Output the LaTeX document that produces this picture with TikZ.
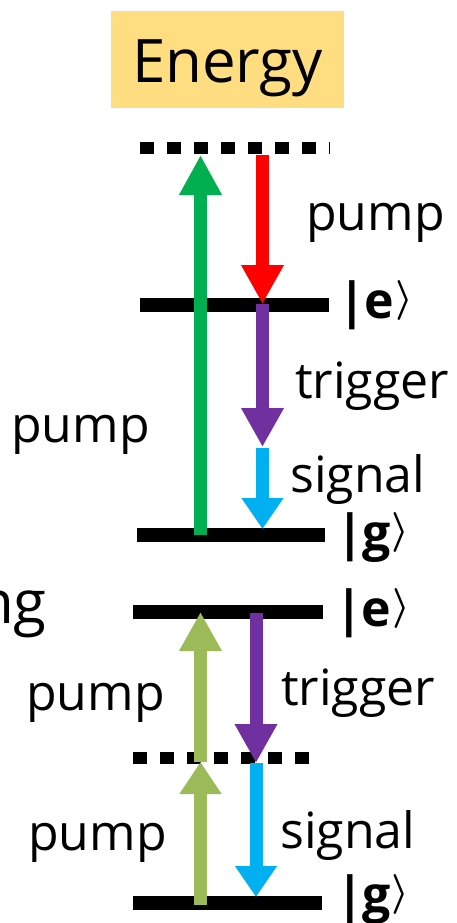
\documentclass[tikz,border=0pt]{standalone}
\usepackage{fontspec}
\setmainfont{Open Sans}
\usetikzlibrary{arrows.meta}
\definecolor{boxyellow}{HTML}{FFDD80}
\definecolor{pgreen}{HTML}{00B050}
\definecolor{pred}{HTML}{FF0000}
\definecolor{ppurple}{HTML}{7030A0}
\definecolor{pblue}{HTML}{00B0F0}
\definecolor{plgreen}{HTML}{9BBB59}
\newcommand{\myket}[1]{{\bfseries |\kern-1pt#1}\kern1pt\raisebox{8pt}{\fontsize{10}{12}\selectfont\scalebox{4}{\boldmath$\rangle$}}}
\tikzset{
  level/.style={line width=13.5pt, black},
  dotlevel/.style={line width=12.5pt, black, dash pattern=on 13.5pt off 13.5pt},
  trans/.style={line width=13pt, -{Triangle[width=40pt,length=#1]}},
  trans/.default=39pt,
  lbl/.style={inner sep=0pt, anchor=base west, font=\fontsize{50}{60}\selectfont},
  ketlbl/.style={inner sep=0pt, anchor=base west, font=\fontsize{50}{60}\selectfont},
}
\begin{document}
\begin{tikzpicture}[x=1pt,y=-1pt]
\useasboundingbox (0,0) rectangle (457,923);
% title box
\node[fill=boxyellow, minimum width=233pt, minimum height=97pt, inner sep=0pt,
      text height=48pt, text depth=1pt, font=\fontsize{60}{70}\selectfont] (energy) at (227.5,59.5) {Energy};
% level coordinates (upper scheme)
\coordinate (vA) at (140,148); \coordinate (vB) at (330,148);
\coordinate (eA) at (140,305); \coordinate (eB) at (329,305);
\coordinate (gA) at (137,535); \coordinate (gB) at (325,535);
% level coordinates (lower scheme)
\coordinate (e2A) at (133,612); \coordinate (e2B) at (323,612);
\coordinate (v2A) at (133,758); \coordinate (v2B) at (322,758);
\coordinate (g2A) at (133,903); \coordinate (g2B) at (322,903);
\draw[dotlevel] (vA) -- (vB);
\draw[level] (eA) -- (eB);
\draw[level] (gA) -- (gB);
\draw[level] (e2A) -- (e2B);
\draw[dotlevel] (v2A) -- (v2B);
\draw[level] (g2A) -- (g2B);
% arrow endpoints upper
\coordinate (gr0) at (200.5,535); \coordinate (gr1) at (200.5,155);
\coordinate (rd0) at (262.5,155); \coordinate (rd1) at (262.5,304);
\coordinate (pu0) at (262.5,304); \coordinate (pu1) at (262.5,447);
\coordinate (bl0) at (262.5,448); \coordinate (bl1) at (262.5,529);
\draw[trans=40pt, pgreen] (gr0) -- (gr1);
\draw[trans, pred] (rd0) -- (rd1);
\draw[trans, ppurple] (pu0) -- (pu1);
\draw[trans=31pt, pblue] (bl0) -- (bl1);
% arrow endpoints lower
\coordinate (lg0) at (200.5,905); \coordinate (lg1) at (200.5,762);
\coordinate (lg2) at (200.5,612);
\coordinate (pp0) at (256,613); \coordinate (pp1) at (256,763);
\coordinate (bb0) at (256,763); \coordinate (bb1) at (256,897);
\draw[trans=32pt, plgreen] (lg0) -- (lg1);
\draw[trans, plgreen] (lg1) -- (lg2);
\draw[trans, ppurple] (pp0) -- (pp1);
\draw[trans=31pt, pblue] (bb0) -- (bb1);
% labels
\node[lbl] (pumpA) at (306,230) {pump};
\node[ketlbl] (ketE1) at (338,318) {\myket{e}};
\node[lbl] (trigA) at (295,398) {trigger};
\node[lbl] (pumpB) at (11,442) {pump};
\node[lbl] (sigA) at (290,492) {signal};
\node[ketlbl] (ketG1) at (336,550) {\myket{g}};
\node[inner sep=0pt, anchor=base east, font=\fontsize{60}{70}\selectfont] (ng) at (47,623) {ng};
\node[ketlbl] (ketE2) at (335,626) {\myket{e}};
\node[lbl] (pumpC) at (26,710) {pump};
\node[lbl] (trigB) at (281,705) {trigger};
\node[lbl] (pumpD) at (28,850) {pump};
\node[lbl] (sigB) at (280,848) {signal};
\node[ketlbl] (ketG2) at (336,912) {\myket{g}};
\end{tikzpicture}
\end{document}
